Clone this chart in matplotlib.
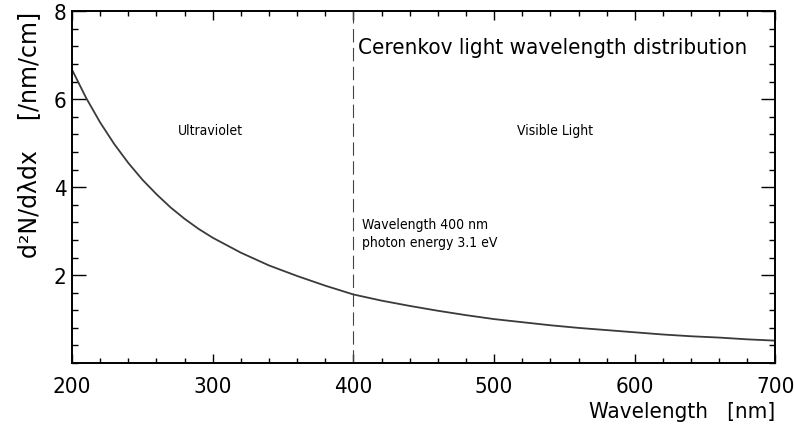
import matplotlib
matplotlib.use('Agg')
import matplotlib.pyplot as plt
from matplotlib.ticker import MultipleLocator
from matplotlib.transforms import ScaledTranslation

plt.rcParams['font.family'] = 'DejaVu Sans'
plt.rcParams['font.stretch'] = 'condensed'

# wavelength [nm] and d2N/dλdx [/nm/cm]
wavelength = [200, 210, 220, 230, 240, 250, 260, 270, 280, 290, 300, 320, 340, 360, 380,
              400, 420, 440, 460, 480, 500, 520, 540, 560, 580, 600, 620, 640, 660, 680, 700]
yield_ = [6.67, 6.03, 5.47, 4.98, 4.55, 4.17, 3.84, 3.54, 3.28, 3.05, 2.85, 2.51, 2.22, 1.98, 1.76,
          1.56, 1.42, 1.30, 1.19, 1.09, 1.00, 0.93, 0.86, 0.80, 0.75, 0.70, 0.65, 0.61, 0.58, 0.54, 0.51]

fig = plt.figure(figsize=(7.94, 4.35), dpi=100)
ax = fig.add_axes([0.0907, 0.163, 0.886, 0.809])

ax.plot(wavelength, yield_, color='#3a3a3a', lw=1.3)
ax.axvline(400, color='#444444', lw=0.8, linestyle=(0, (12, 5)))

ax.set_xlim(200, 700)
ax.set_ylim(0, 8)
ax.xaxis.set_major_locator(MultipleLocator(100))
ax.xaxis.set_minor_locator(MultipleLocator(20))
ax.yaxis.set_minor_locator(MultipleLocator(0.4))
ax.set_yticks([2, 4, 6, 8])
ax.tick_params(which='both', direction='in', top=True, right=True, labelsize=16, width=1.0)
ax.tick_params(axis='x', which='major', length=6.5, pad=9)
ax.tick_params(axis='x', which='minor', length=3.5)
ax.tick_params(axis='y', which='major', length=10, pad=4)
ax.tick_params(axis='y', which='minor', length=4.5)
for s in ax.spines.values():
    s.set_linewidth(1.4)

# first x label sits a bit right of its tick, like the original
lab0 = ax.get_xticklabels()[0]
lab0.set_transform(lab0.get_transform() + ScaledTranslation(0.1, 0, fig.dpi_scale_trans))

ax.text(403.5, 7.18, 'Cerenkov light wavelength distribution', fontsize=16, va='center')
ax.text(298, 5.3, 'Ultraviolet', fontsize=10, ha='center', va='center')
ax.text(543, 5.3, 'Visible Light', fontsize=10, ha='center', va='center')
ax.text(406, 3.16, 'Wavelength 400 nm', fontsize=10, va='center')
ax.text(406, 2.75, 'photon energy 3.1 eV', fontsize=10, va='center')

ax.set_xlabel('Wavelength   [nm]', fontsize=16, loc='right')
ax.set_ylabel('d²N/dλdx    [/nm/cm]', fontsize=17, loc='top', labelpad=9,
              fontstretch='normal')

fig.savefig('out.png', dpi=100)
